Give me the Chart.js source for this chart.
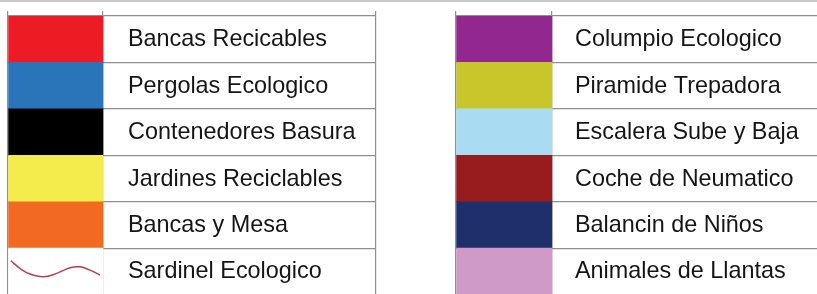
<!DOCTYPE html>
<html>
<head>
<meta charset="utf-8">
<script src="https://cdn.jsdelivr.net/npm/chart.js@4/dist/chart.umd.min.js"></script>
<style>
  html, body { margin: 0; padding: 0; background: #fff; overflow: hidden; }
  #wrap { position: relative; width: 817px; height: 294px; overflow: hidden; border-top: 2px solid #c8c8c8; box-sizing: border-box; }
  canvas { position: absolute; top: -2px; }
  #leftTable { left: 0; }
  #rightTable { left: 448px; }
</style>
</head>
<body>
<div id="wrap">
  <canvas id="leftTable" width="380" height="300"></canvas>
  <canvas id="rightTable" width="369" height="300"></canvas>
</div>
<script>
/* Legend table — two columns of colour swatches with names */

var leftLabels = ["Bancas Recicables", "Pergolas Ecologico", "Contenedores Basura",
  "Jardines Reciclables", "Bancas y Mesa", "Sardinel Ecologico"];
var leftColors = ["#ed1c24", "#2a74ba", "#000000", "#f3ec4c", "#f26a21", "#ffffff"];

var rightLabels = ["Columpio Ecologico", "Piramide Trepadora", "Escalera Sube y Baja",
  "Coche de Neumatico", "Balancin de Niños", "Animales de Llantas"];
var rightColors = ["#92278f", "#c9c62c", "#a9dbf2", "#981b1e", "#1f2f6c", "#cf9ac8"];

/* wavy line drawn in the "Sardinel Ecologico" swatch (column units, row units) */
var waveX = [0.03, 0.126, 0.232, 0.372, 0.513, 0.653, 0.758, 0.863, 0.968];
var waveY = [4.77, 4.935, 5.058, 5.116, 5.043, 4.923, 4.902, 4.972, 5.079];

var FONT = "23.4px 'Liberation Sans', Arial, sans-serif";
var LINE = "#8f8f8f";

/* Text cells: drawn at the scale positions of each row */
var cellText = {
  id: "cellText",
  afterDatasetsDraw: function (chart, args, opts) {
    var ctx = chart.ctx;
    var xs = chart.scales.x, ys = chart.scales.y;
    ctx.save();
    ctx.font = FONT;
    ctx.fillStyle = "#151515";
    ctx.textBaseline = "alphabetic";
    opts.labels.forEach(function (lab, i) {
      ctx.fillText(lab, xs.getPixelForValue(1) + opts.gap, ys.getPixelForValue(i) + 7);
    });
    ctx.restore();
  }
};

function makeTable(el, labels, colors, xMax, lineTicks, gap, padding, extra) {
  var datasets = [{
    type: "bar",
    data: labels.map(function () { return [0, 1]; }),
    backgroundColor: colors,
    borderWidth: 0,
    barPercentage: 1,
    categoryPercentage: 1,
    grouped: false,
    order: 2,
    xAxisID: "x",
    yAxisID: "y",
  }];
  if (extra) datasets.push(extra);

  return new Chart(el, {
    type: "bar",
    data: { labels: labels, datasets: datasets },
    plugins: [cellText],
    options: {
      responsive: false,
      animation: false,
      indexAxis: "y",
      layout: { padding: padding },
      plugins: {
        legend: { display: false },
        tooltip: { enabled: false },
        cellText: { labels: labels, gap: gap },
      },
      scales: {
        x: {
          type: "linear",
          position: "top",
          min: 0,
          max: xMax,
          afterBuildTicks: function (s) {
            s.ticks = lineTicks.map(function (v) { return { value: v }; });
          },
          ticks: { display: false },
          border: { display: false },
          grid: { color: LINE, lineWidth: 1.2, tickLength: 5 },
        },
        y: {
          type: "category",
          offset: true,
          ticks: { display: false },
          border: { display: true, color: LINE, width: 1.2 },
          grid: { color: LINE, lineWidth: 1.2, drawTicks: false, offset: true },
        },
        yw: {
          type: "linear",
          display: false,
          offset: false,
          min: -0.5,
          max: 5.5,
          reverse: true,
        },
      },
    },
  });
}

var wave = {
  type: "line",
  data: waveX.map(function (x, i) { return { x: x, y: waveY[i] }; }),
  borderColor: "#b2404f",
  borderWidth: 1.5,
  pointRadius: 0,
  tension: 0.4,
  fill: false,
  order: 0,
  indexAxis: "x",
  xAxisID: "x",
  yAxisID: "yw",
};

makeTable(document.getElementById("leftTable"), leftLabels, leftColors,
  368 / 95, [0, 1, 368 / 95], 25,
  { top: 11, left: 8, right: 4, bottom: 5.4 }, wave);

makeTable(document.getElementById("rightTable"), rightLabels, rightColors,
  361 / 96, [0, 1], 23,
  { top: 11, left: 8, right: 0, bottom: 5.4 }, null);
</script>
</body>
</html>
